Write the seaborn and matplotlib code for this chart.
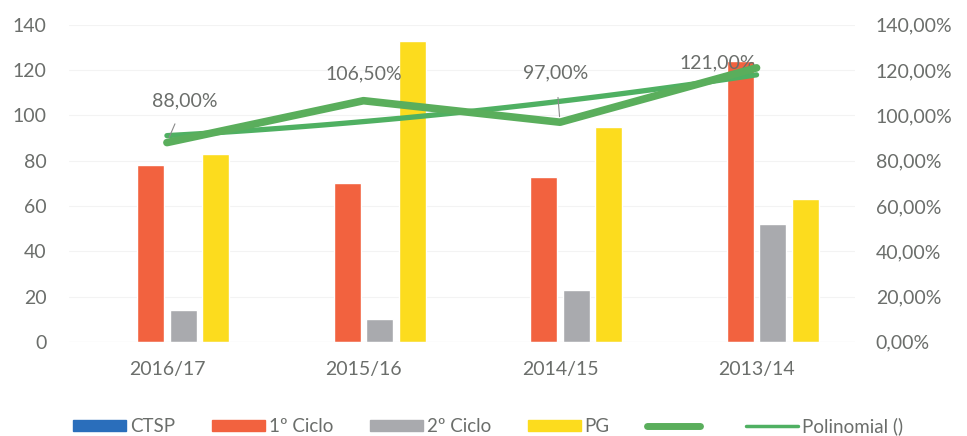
import numpy as np
import pandas as pd
import matplotlib
matplotlib.use("Agg")
import matplotlib.pyplot as plt
import matplotlib.patches as mpatches
import matplotlib.lines as mlines
from matplotlib.ticker import FuncFormatter
import seaborn as sns

# data
anos = ["2016/17", "2015/16", "2014/15", "2013/14"]
ctsp = [0, 0, 0, 0]
ciclo1 = [78, 70, 73, 124]
ciclo2 = [14, 10, 23, 52]
pg = [83, 133, 95, 63]
taxa = [0.88, 1.065, 0.97, 1.21]
taxa_txt = ["88,00%", "106,50%", "97,00%", "121,00%"]
series = ["CTSP", "1º Ciclo", "2º Ciclo", "PG"]

cores = {"CTSP": "#2a6ebb", "1º Ciclo": "#f2623f", "2º Ciclo": "#a9aaae", "PG": "#fcdc1e"}
verde = "#5aae5c"
cinza = "#6b6e6b"

df = pd.DataFrame({
    "ano": anos * 4,
    "serie": np.repeat(series, 4),
    "valor": ctsp + ciclo1 + ciclo2 + pg,
})

sns.set_style("white")
plt.rcParams['font.family'] = ['Lato', 'DejaVu Sans']

fig, ax = plt.subplots(figsize=(9.67, 4.36), dpi=100)
fig.subplots_adjust(left=0.071, right=0.884, top=0.943, bottom=0.216)

sns.barplot(data=df, x="ano", y="valor", hue="serie", hue_order=series, order=anos,
            palette=cores, width=0.66, gap=0.17, ax=ax, legend=False, saturation=1)

ax.set_ylim(0, 140)
ax.set_yticks(range(0, 141, 20))
ax.set_xlim(-0.5, 3.5)
ax.set_xlabel("")
ax.set_ylabel("")
ax.tick_params(axis="both", length=0, labelsize=14, labelcolor=cinza)
ax.tick_params(axis="x", pad=14)
ax.tick_params(axis="y", pad=16)
ax.grid(axis="y", color="#f3f3f3", lw=0.8)
ax.set_axisbelow(True)
ax.axhline(0, color="#e6e6e6", lw=0.8)
sns.despine(ax=ax, left=True, bottom=True)

# secondary axis with the rate and its polynomial trend
ax2 = ax.twinx()
xs = np.arange(len(anos))
coef = np.polyfit(xs, taxa, 2)
xt = np.linspace(0, 3, 100)
ax2.plot(xt, np.polyval(coef, xt), color="#4fb062", lw=3.8, solid_capstyle="round", zorder=3)
sns.lineplot(x=xs, y=taxa, ax=ax2, color=verde, lw=5.5, zorder=4)
ax2.set_ylim(0, 1.4)
ax2.set_yticks(np.arange(0, 1.41, 0.2))
ax2.yaxis.set_major_formatter(FuncFormatter(lambda v, p: f"{v*100:.2f}%".replace(".", ",")))
ax2.tick_params(axis="y", length=0, labelsize=14, labelcolor=cinza, pad=15)
sns.despine(ax=ax2, left=True, bottom=True, right=True)

offs = [(18, 42), (0, 27), (-4, 49), (-39, 5)]
for i, (t, o) in enumerate(zip(taxa_txt, offs)):
    arrow = None
    if i in (0, 2):
        arrow = dict(arrowstyle="-", color="#8a8a8a", lw=0.8, shrinkA=9, shrinkB=4)
    ax2.annotate(t, (xs[i], taxa[i]), xytext=o, textcoords="offset pixels",
                 ha="center", va="center", fontsize=14, color=cinza, arrowprops=arrow)

handles = [mpatches.Patch(color=cores[s], label=s) for s in series]
handles.append(mlines.Line2D([], [], color=verde, lw=5, solid_capstyle="round", label=" "))
handles.append(mlines.Line2D([], [], color="#4fb062", lw=2.5, label="Polinomial ()"))
fig.legend(handles=handles, loc="center", bbox_to_anchor=(0.505, 0.022), ncol=6,
           frameon=False, fontsize=13.5, labelcolor=cinza, handlelength=2.8,
           handleheight=0.55, columnspacing=2.0, handletextpad=0.2)

fig.savefig("out.png", dpi=100)
